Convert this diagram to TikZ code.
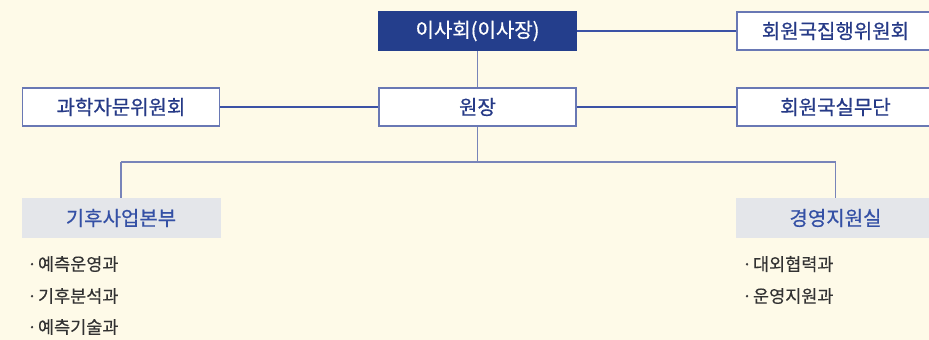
\documentclass[tikz,border=0pt]{standalone}
\usepackage{fontspec}
\setmainfont{Noto Sans CJK KR}
\newfontfamily\medfont{Noto Sans CJK KR}[FakeBold=0.6]
\newfontfamily\itemfont{Noto Sans CJK KR}[FakeBold=0.25]
\begin{document}
\begin{tikzpicture}[x=1pt,y=-1pt,
  wbox/.style={draw=boxline,line width=1.6pt,fill=white,minimum width=197pt,minimum height=38pt,inner sep=0pt,text=navytext,font=\medfont\fontsize{20}{22}\selectfont},
  nbox/.style={fill=navy,minimum width=199pt,minimum height=40pt,inner sep=0pt,text=white,font=\medfont\fontsize{20}{22}\selectfont},
  gbox/.style={fill=graybox,minimum width=199pt,minimum height=40pt,inner sep=0pt,text=graytext,font=\medfont\fontsize{20}{22}\selectfont},
  conn/.style={draw=connline,line width=1.3pt},
  hconn/.style={draw=hline,line width=1.3pt},
  item/.style={anchor=west,inner sep=0pt,text=itemtext,font=\itemfont\fontsize{17.5}{19}\selectfont}]
\definecolor{bg}{RGB}{254,250,232}
\definecolor{navy}{RGB}{36,62,140}
\definecolor{boxline}{RGB}{105,120,180}
\definecolor{navytext}{RGB}{38,58,135}
\definecolor{graybox}{RGB}{228,230,234}
\definecolor{graytext}{RGB}{52,80,165}
\definecolor{connline}{RGB}{120,132,185}
\definecolor{hline}{RGB}{60,82,165}
\definecolor{itemtext}{RGB}{50,50,50}
\useasboundingbox (0,0) rectangle (929,340);
\clip (0,0) rectangle (929,340);
\fill[bg] (0,0) rectangle (929,340);
\coordinate (busc) at (477.5,162);
\coordinate (busl) at (121,162);
\coordinate (busr) at (835.5,162);
\node[nbox] (board) at (477.5,31) {이사회(이사장)};
\node[wbox] (exec) at (835.5,31) {회원국집행위원회};
\node[wbox] (pres) at (477.5,107) {원장};
\node[wbox] (sci) at (121,107) {과학자문위원회};
\node[wbox] (work) at (835.5,107) {회원국실무단};
\node[gbox] (climate) at (121,218) {기후사업본부};
\node[gbox] (mgmt) at (835.5,218) {경영지원실};
\draw[hconn] (board.east) -- (exec.west);
\draw[conn] (board.south) -- (pres.north);
\draw[hconn] (pres.west) -- (sci.east);
\draw[hconn] (pres.east) -- (work.west);
\draw[conn] (pres.south) -- (busc);
\draw[conn] (busl) -- (busr);
\draw[conn] (busl) -- (climate.north);
\draw[conn] (busr) -- (mgmt.north);
\node[item] (l1) at (27,264) {·\hspace{1pt}예측운영과};
\node[item] (l2) at (27,296) {·\hspace{1pt}기후분석과};
\node[item] (l3) at (27,327) {·\hspace{1pt}예측기술과};
\node[item] (r1) at (742,264) {·\hspace{1pt}대외협력과};
\node[item] (r2) at (742,296) {·\hspace{1pt}운영지원과};
\end{tikzpicture}
\end{document}
